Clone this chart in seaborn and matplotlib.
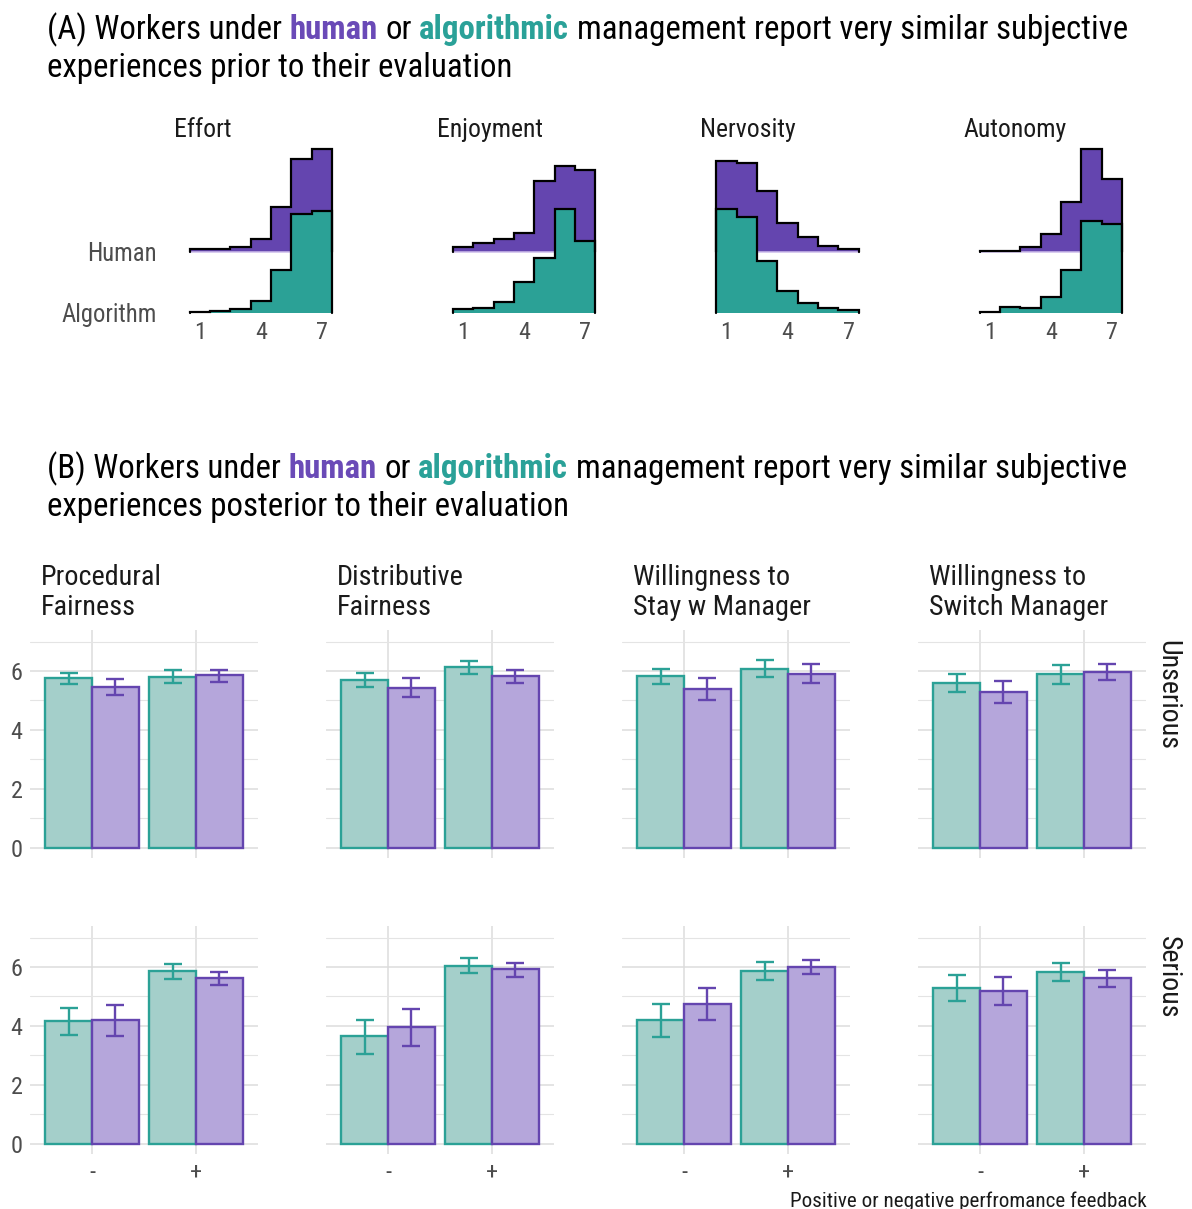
import numpy as np
import pandas as pd
import matplotlib
matplotlib.use("Agg")
import matplotlib.pyplot as plt
import seaborn as sns
from matplotlib import font_manager

# ---------------- data ----------------
ridge_measures = ["Effort", "Enjoyment", "Nervosity", "Autonomy"]
ridge_groups = ["Human", "Algorithm"]
likert_points = [1, 2, 3, 4, 5, 6, 7]
ridge_ticks = [1, 4, 7]
# share of responses (%) at each scale point
effort_human = [0.9, 0.9, 1.6, 4.6, 16.7, 34.2, 37.9]
effort_algorithm = [0.2, 0.6, 1.2, 4.3, 15.8, 36.5, 37.8]
enjoyment_human = [1.6, 3.1, 4.6, 7.0, 26.3, 31.7, 30.2]
enjoyment_algorithm = [1.2, 1.9, 3.8, 11.5, 20.1, 38.3, 26.7]
nervosity_human = [33.7, 32.7, 22.6, 10.5, 5.3, 2.1, 1.0]
nervosity_algorithm = [38.3, 35.3, 19.3, 8.0, 3.5, 1.9, 1.0]
autonomy_human = [0.2, 0.3, 1.9, 6.5, 18.5, 37.9, 26.8]
autonomy_algorithm = [0.4, 2.2, 1.6, 5.9, 15.8, 34.0, 32.7]

bar_measures = ["Procedural\nFairness", "Distributive\nFairness",
                "Willingness to\nStay w Manager", "Willingness to\nSwitch Manager"]
seriousness = ["Unserious", "Serious"]
feedback = ["-", "+"]
managers = ["Algorithm", "Human"]
# order: Unserious(-: Alg, Hum; +: Alg, Hum), Serious(-: Alg, Hum; +: Alg, Hum)
procedural_mean = [5.75, 5.46, 5.81, 5.85, 4.17, 4.20, 5.86, 5.63]
procedural_lo = [5.56, 5.18, 5.58, 5.64, 3.69, 3.65, 5.61, 5.40]
procedural_hi = [5.94, 5.73, 6.02, 6.03, 4.62, 4.72, 6.11, 5.84]
distributive_mean = [5.71, 5.44, 6.12, 5.83, 3.65, 3.95, 6.05, 5.92]
distributive_lo = [5.47, 5.11, 5.90, 5.61, 3.06, 3.32, 5.78, 5.67]
distributive_hi = [5.92, 5.75, 6.33, 6.03, 4.22, 4.56, 6.29, 6.14]
stay_mean = [5.83, 5.39, 6.08, 5.91, 4.20, 4.76, 5.87, 6.01]
stay_lo = [5.55, 5.02, 5.78, 5.58, 3.64, 4.22, 5.55, 5.75]
stay_hi = [6.08, 5.76, 6.36, 6.23, 4.74, 5.30, 6.18, 6.24]
switch_mean = [5.59, 5.30, 5.90, 5.96, 5.30, 5.20, 5.84, 5.62]
switch_lo = [5.29, 4.92, 5.56, 5.68, 4.84, 4.72, 5.52, 5.32]
switch_hi = [5.89, 5.67, 6.21, 6.24, 5.74, 5.67, 6.14, 5.91]
bar_yticks = [0, 2, 4, 6]

title_a = ["(A) Workers under", "human", "or", "algorithmic",
           "management report very similar subjective"]
title_a2 = "experiences prior to their evaluation"
title_b = ["(B) Workers under", "human", "or", "algorithmic",
           "management report very similar subjective"]
title_b2 = "experiences posterior to their evaluation"
x_title = "Positive or negative perfromance feedback"

# ---------------- tables ----------------
ridge_values = {
    ("Effort", "Human"): effort_human, ("Effort", "Algorithm"): effort_algorithm,
    ("Enjoyment", "Human"): enjoyment_human, ("Enjoyment", "Algorithm"): enjoyment_algorithm,
    ("Nervosity", "Human"): nervosity_human, ("Nervosity", "Algorithm"): nervosity_algorithm,
    ("Autonomy", "Human"): autonomy_human, ("Autonomy", "Algorithm"): autonomy_algorithm,
}
bar_source = {
    bar_measures[0]: (procedural_mean, procedural_lo, procedural_hi),
    bar_measures[1]: (distributive_mean, distributive_lo, distributive_hi),
    bar_measures[2]: (stay_mean, stay_lo, stay_hi),
    bar_measures[3]: (switch_mean, switch_lo, switch_hi),
}
rows = []
for m, (mu, lo, hi) in bar_source.items():
    k = 0
    for s in seriousness:
        for f in feedback:
            for g in managers:
                rows.append(dict(measure=m, serious=s, feedback=f, manager=g,
                                 mean=mu[k], lo=lo[k], hi=hi[k]))
                k += 1
bars = pd.DataFrame(rows)

# ---------------- style ----------------
sns.set_theme(style="whitegrid")
names = {f.name for f in font_manager.fontManager.ttflist}
FONT = next((n for n in ["Roboto Condensed", "Roboto", "Noto Sans"] if n in names), "DejaVu Sans")
plt.rcParams["font.family"] = [FONT, "DejaVu Sans"]

PURPLE = "#6445AF"
TEAL = "#2BA196"
PURPLE_T = "#6A4AB7"
TEAL_T = "#2AA198"
PURPLE_L = "#B5A6DB"
TEAL_L = "#A4CFCA"
PURPLE_BASE = "#CDBDEB"
DARK = "#1A1A1A"
GREY = "#4D4D4D"

W, H = 1192, 1209
fig = plt.figure(figsize=(W / 100, H / 100), dpi=100)
fig.patch.set_facecolor("white")
renderer = fig.canvas.get_renderer()


def text_width(s, size, weight="normal"):
    t = fig.text(0, 0, s, fontsize=size, fontweight=weight)
    w = t.get_window_extent(renderer).width
    t.remove()
    return w


def fit(s, target, weight="normal", ref=20.0):
    return ref * target / text_width(s, ref, weight)


def add_axes_px(left, top, width, height):
    return fig.add_axes([left / W, 1 - (top + height) / H, width / W, height / H])


WEIGHTS = ["normal", "bold", "normal", "bold", "normal"]
COLORS = ["black", PURPLE_T, "black", TEAL_T, "black"]


def title_width(runs, size):
    space = text_width("a a", size) - text_width("aa", size)
    return sum(text_width(t, size, w) for t, w in zip(runs, WEIGHTS)) + space * (len(runs) - 1)


def rich_title(x0, base1, base2, runs, line2, size):
    space = text_width("a a", size) - text_width("aa", size)
    x = x0
    for txt, wt, c in zip(runs, WEIGHTS, COLORS):
        t = fig.text(x / W, 1 - base1 / H, txt, fontsize=size, fontweight=wt,
                     color=c, va="baseline", ha="left")
        x += t.get_window_extent(renderer).width + space
    fig.text(x0 / W, 1 - base2 / H, line2, fontsize=size, color="black",
             va="baseline", ha="left")


title_size = 20.0 * 1078 / title_width(title_a, 20.0)
rich_title(47, 39, 77, title_a, title_a2, title_size)
rich_title(47, 478, 516, title_b, title_b2, title_size)

strip_size = fit("Switch Manager", 178)
ridge_strip_size = fit("Enjoyment", 106)
group_size = fit("Algorithm", 95)
tick_size = 17.5
xlab_size = fit(x_title, 357)
side_size = fit("Unserious", 110)

# ---------------- panel A: ridgeline histograms ----------------
unit = 20.33           # px per scale point
row_px = 61.0          # px between ridge baselines
k_height = 2.7 / row_px
edges = np.arange(0.5, 8.0, 1.0)
for i, meas in enumerate(ridge_measures):
    tick1 = 200 + i * 263.3
    left = tick1 - 1.3 * unit
    ax = add_axes_px(left, 140, 8.6 * unit, 180)
    ax.set_xlim(-0.3, 8.3)
    ax.set_ylim(-(320 - 312.7) / row_px, (312.7 - 140) / row_px)
    for g, off in [("Human", 1.0), ("Algorithm", 0.0)]:
        h = off + np.asarray(ridge_values[(meas, g)]) * k_height
        fill = PURPLE if g == "Human" else TEAL
        ax.fill_between(edges, off, np.append(h, h[-1]), step="post",
                        color=fill, lw=0, zorder=2)
        if g == "Human":
            ax.plot([edges[0], edges[-1]], [off, off], color=PURPLE_BASE, lw=1.1, zorder=2)
        xs = np.repeat(edges, 2)
        ys = np.r_[off, np.repeat(h, 2), off]
        ax.plot(xs, ys, color="black", lw=1.6, solid_joinstyle="miter", zorder=3)
    ax.grid(False)
    for sp in ax.spines.values():
        sp.set_visible(False)
    ax.set_facecolor("none")
    ax.set_xticks(ridge_ticks)
    ax.set_xticklabels([str(t) for t in ridge_ticks])
    ax.tick_params(axis="x", length=0, pad=1, labelsize=tick_size, labelcolor=GREY)
    if i == 0:
        ax.set_yticks([0, 1])
        ax.set_yticklabels(["Algorithm", "Human"])
        ax.tick_params(axis="y", length=0, pad=12, labelsize=group_size, labelcolor=GREY)
    else:
        ax.set_yticks([])
    fig.text(left / W, 1 - 137 / H, meas, fontsize=ridge_strip_size, color=DARK,
             ha="left", va="baseline")

# ---------------- panel B: bar charts ----------------
cat_px = 104.0
bar_w = 0.9
for r, s in enumerate(seriousness):
    top = 630 + r * 296
    for c, meas in enumerate(bar_measures):
        left = 92 + c * 296 - 0.6 * cat_px
        ax = add_axes_px(left, top, 2.2 * cat_px, 228)
        sub = bars[(bars.measure == meas) & (bars.serious == s)]
        sns.barplot(data=sub, x="feedback", y="mean", hue="manager",
                    order=feedback, hue_order=managers,
                    palette=[TEAL_L, PURPLE_L], saturation=1, width=bar_w,
                    errorbar=None, legend=False, linewidth=1.7, ax=ax, zorder=2)
        for cont, ec in zip(ax.containers, [TEAL, PURPLE]):
            for patch in cont:
                patch.set_edgecolor(ec)
                patch.set_linewidth(1.7)
        for j, (g, ec) in enumerate(zip(managers, [TEAL, PURPLE])):
            d = sub[sub.manager == g].set_index("feedback").loc[feedback]
            xs = np.arange(len(feedback)) + (j - 0.5) * bar_w / 2
            mu = d["mean"].to_numpy()
            ax.errorbar(xs, mu, yerr=[mu - d["lo"].to_numpy(), d["hi"].to_numpy() - mu],
                        fmt="none", ecolor=ec, elinewidth=1.7, capsize=6.5,
                        capthick=1.7, zorder=4)
        ax.set_xlim(-0.6, 1.6)
        ax.set_ylim(-0.34, 7.39)
        ax.set_yticks(bar_yticks)
        ax.set_yticks([1, 3, 5, 7], minor=True)
        ax.set_axisbelow(True)
        ax.grid(True, which="major", axis="both", color="#DCDCDC", lw=1.1)
        ax.grid(True, which="minor", axis="y", color="#E4E4E4", lw=0.8)
        ax.set_facecolor("white")
        for sp in ax.spines.values():
            sp.set_visible(False)
        ax.set_xlabel("")
        ax.set_ylabel("")
        ax.tick_params(which="both", length=0)
        ax.tick_params(axis="y", pad=5, labelsize=tick_size, labelcolor=GREY)
        ax.tick_params(axis="x", pad=5, labelsize=tick_size, labelcolor=GREY)
        if c != 0:
            ax.set_yticklabels([])
        if r != len(seriousness) - 1:
            ax.set_xticklabels([])
        if r == 0:
            fig.text((left + 11) / W, 1 - 615 / H, meas, fontsize=strip_size, color=DARK,
                     ha="left", va="baseline", linespacing=1.12)
    fig.text(1168 / W, 1 - (top + 10) / H, s, rotation=-90, fontsize=side_size,
             color=DARK, ha="center", va="top")

fig.text(1147 / W, 1 - 1201 / H, x_title, fontsize=xlab_size, color=DARK,
         ha="right", va="center")

fig.savefig("out.png", dpi=100, facecolor="white")
